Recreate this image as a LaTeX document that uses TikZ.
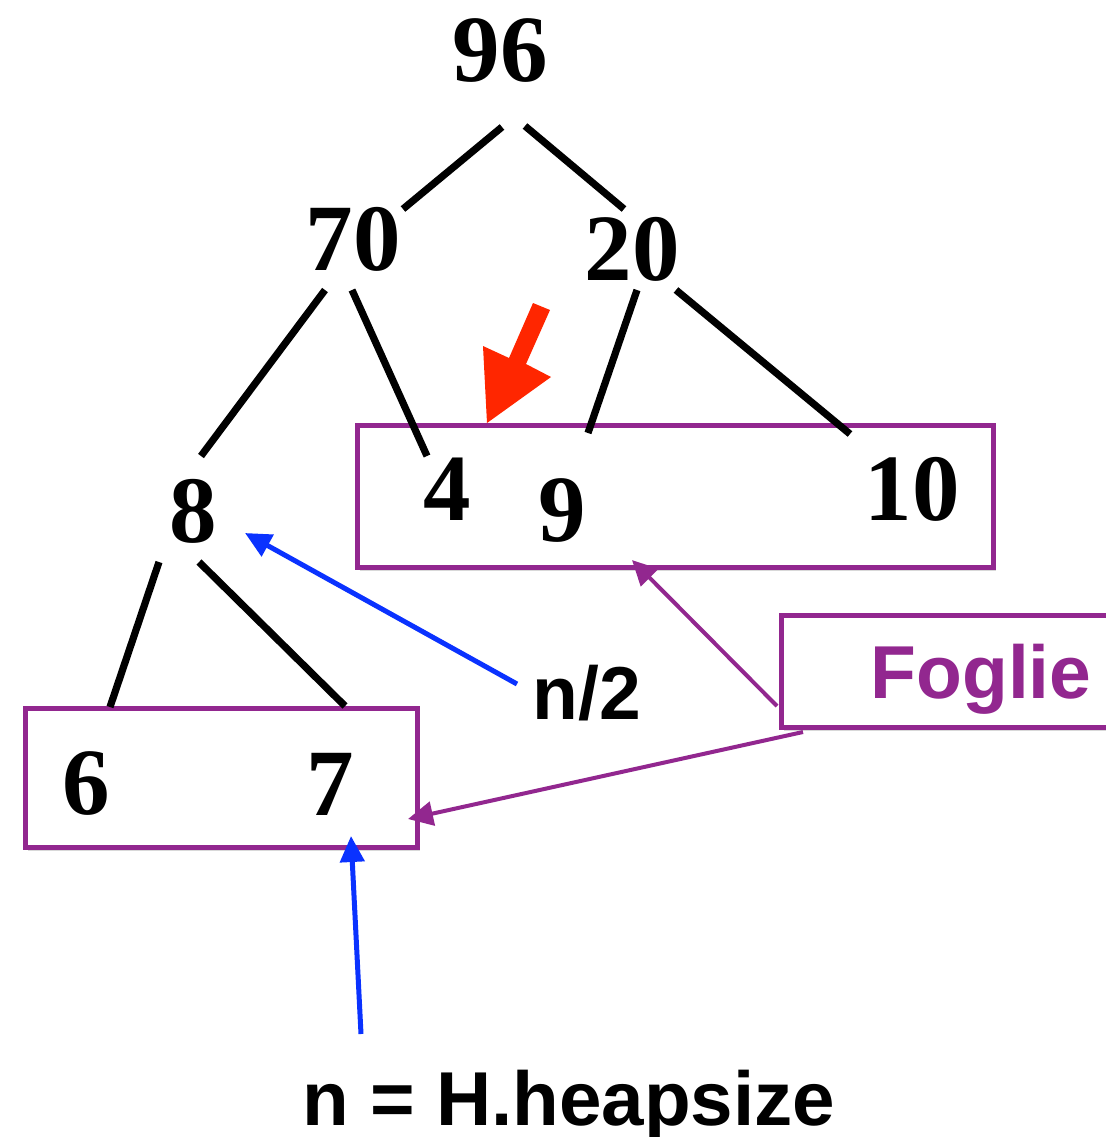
\documentclass[tikz,border=0pt]{standalone}
\usepackage{fontspec}
\setmainfont{Liberation Serif}
\newfontfamily\labelfont{Liberation Sans}
\usetikzlibrary{arrows.meta,shadows}
\definecolor{fpurple}{RGB}{146,39,143}
\definecolor{fblue}{RGB}{10,50,255}
\definecolor{fred}{RGB}{255,38,0}
\begin{document}
\begin{tikzpicture}[x=0.5pt,y=-0.5pt,
  num/.style={inner sep=0pt, anchor=base, font=\fontsize{47.5}{50}\selectfont\bfseries},
  lab/.style={inner sep=0pt, anchor=base, font=\fontsize{37.5}{40}\selectfont\labelfont\bfseries},
  treeedge/.style={line width=3.6pt},
  leafbox/.style={draw=fpurple, line width=2.5pt, fill=white, inner sep=0pt,
    drop shadow={shadow xshift=1.5pt, shadow yshift=-2pt, opacity=0.3}},
  barrow/.style={draw=fblue, line width=2.5pt, -{Triangle[length=13pt,width=12pt]}},
  parrow/.style={draw=fpurple, line width=2pt, -{Triangle[length=12.5pt,width=12pt]}}
]
\useasboundingbox (0,0) rectangle (1106,1137);
\fill[white] (0,0) rectangle (1106,1137);

% leaf boxes
\node[leafbox, minimum width=318pt, minimum height=71pt] (box1) at (675,496) {};
\node[leafbox, minimum width=196pt, minimum height=69.5pt] (box2) at (221,777.5) {};
\node[leafbox, minimum width=172pt, minimum height=56pt] (fbox) at (953,671) {};

% edge end points
\coordinate (a1) at (502,127); \coordinate (b1) at (403,209);
\coordinate (a2) at (525,126); \coordinate (b2) at (624,209);
\coordinate (a3) at (325,290); \coordinate (b3) at (201,456);
\coordinate (a4) at (352,290); \coordinate (b4) at (427,456);
\coordinate (a5) at (637,290); \coordinate (b5) at (588,433);
\coordinate (a6) at (676,290); \coordinate (b6) at (850,434);
\coordinate (a7) at (159,562); \coordinate (b7) at (110,707);
\coordinate (a8) at (199,562); \coordinate (b8) at (345,706);

\draw[treeedge] (a1) -- (b1);
\draw[treeedge] (a2) -- (b2);
\draw[treeedge] (a3) -- (b3);
\draw[treeedge] (a4) -- (b4);
\draw[treeedge] (a5) -- (b5);
\draw[treeedge] (a6) -- (b6);
\draw[treeedge] (a7) -- (b7);
\draw[treeedge] (a8) -- (b8);

% numbers
\node[num] (n96) at (500,81) {96};
\node[num] (n70) at (353,270) {70};
\node[num] (n20) at (632,280) {20};
\node[num] (n8) at (193,542) {8};
\node[num] (n4) at (447,520) {4};
\node[num] (n9) at (562,541) {9};
\node[num] (n10) at (912,520) {10};
\node[num] (n6) at (86,814) {6};
\node[num] (n7) at (330,815) {7};

% labels
\node[lab, text=fpurple] (foglie) at (981,698) {Foglie};
\node[lab] (half) at (587,719) {n/2};
\node[lab, font=\fontsize{38.2}{40}\selectfont\labelfont\bfseries] (heap) at (569,1125) {n = H.heapsize};

% red arrow
\fill[fred] (533,303) -- (550,310) -- (526,364) -- (551,377) -- (487,423)
  -- (483,346) -- (509,358) -- cycle;

% arrows
\coordinate (t1) at (517,684); \coordinate (h1) at (245,533);
\coordinate (t2) at (361,1034); \coordinate (h2) at (351,836);
\coordinate (t3) at (777,706); \coordinate (h3) at (632,560);
\coordinate (t4) at (803,732); \coordinate (h4) at (408,819);
\draw[barrow] (t1) -- (h1);
\draw[barrow] (t2) -- (h2);
\draw[parrow] (t3) -- (h3);
\draw[parrow] (t4) -- (h4);
\end{tikzpicture}
\end{document}
